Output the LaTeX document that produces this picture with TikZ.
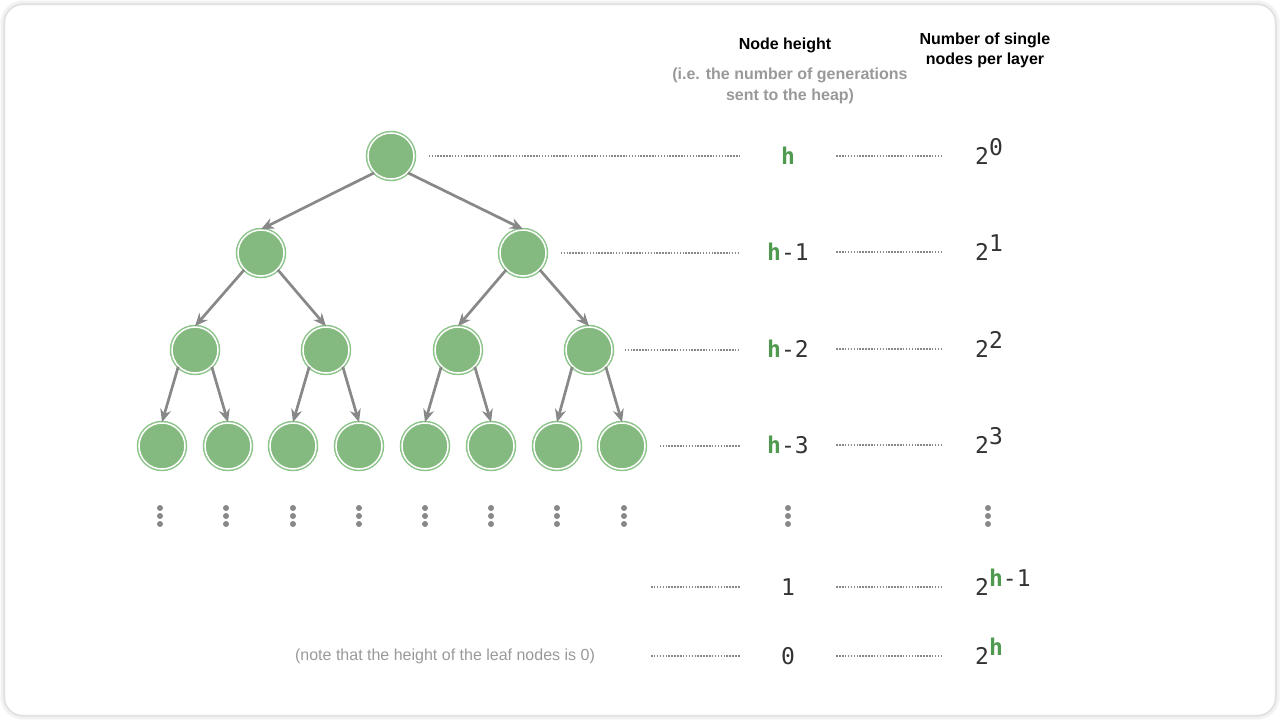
\documentclass[tikz,border=0pt]{standalone}
\usepackage{fontspec}
\setmainfont{Liberation Sans}
\setmonofont{DejaVu Sans Mono}
\usetikzlibrary{positioning, arrows.meta}
\definecolor{leafgreen}{HTML}{84B97F}
\definecolor{ringgreen}{HTML}{8DC48B}
\definecolor{hgreen}{HTML}{4F9A4F}
\definecolor{edgegray}{HTML}{888888}
\definecolor{notegray}{HTML}{999999}
\definecolor{valgray}{HTML}{333333}
\newcommand{\hh}{\textbf{\textcolor{hgreen}{h}}}
\newcommand{\pw}[1]{2\raisebox{9pt}{#1}}
\tikzset{
  heapnode/.style={circle, minimum size=46, inner sep=0, fill=leafgreen,
    draw=white, line width=1.5, preaction={draw=ringgreen, line width=4.5}},
  child/.style={-{Stealth[length=13,width=11]}, draw=edgegray, line width=2.7},
  level/.style={draw=edgegray, line width=1.3, dash pattern=on 1.5 off 1.4},
  val/.style={minimum width=96, inner sep=0, text=valgray,
    font=\fontsize{23}{27}\selectfont\ttfamily},
  pow/.style={anchor=base west, inner sep=0, text=valgray,
    font=\fontsize{23}{27}\selectfont\ttfamily},
  head/.style={align=center, font=\fontsize{16}{20}\selectfont\bfseries},
  dot/.style={circle, fill=edgegray, inner sep=0, minimum size=6},
}

\begin{document}
\begin{tikzpicture}[x=1pt, y=-1pt]
  \useasboundingbox (0,0) rectangle (1280,720);
  % frame
  \draw[rounded corners=20, draw=black!5, line width=5] (3,3) rectangle (1277,717);
  \draw[rounded corners=19, draw=black!13, line width=1.2] (4,4) rectangle (1276,716);

  % headers
  \node[head] (hhead) at (785,45) {Node height};
  \node[head, text=notegray, font=\fontsize{16}{21}\selectfont\bfseries] (hsub) at (790,86)
    {(i.e. the number of generations\\sent to the heap)};
  \node[head] (nhead) at (985,50) {Number of single\\nodes per layer};

  % tree
  \node[heapnode] (n) at (391,156) {};
  \node[heapnode] (nl) at (261,253) {};
  \node[heapnode] (nr) at (523,253) {};
  \node[heapnode] (nll) at (195,350) {};
  \node[heapnode] (nlr) at (326,350) {};
  \node[heapnode] (nrl) at (458,350) {};
  \node[heapnode] (nrr) at (589,350) {};
  \foreach \x [count=\i] in {162,228,293,359,425,491,557,622}
    \node[heapnode] (leaf\i) at (\x,446) {};

  \draw[child] (n.south west) -- (nl.north);
  \draw[child] (n.south east) -- (nr.north);
  \draw[child] (nl.south west) -- (nll.north);
  \draw[child] (nl.south east) -- (nlr.north);
  \draw[child] (nr.south west) -- (nrl.north);
  \draw[child] (nr.south east) -- (nrr.north);
  \draw[child] (nll.south west) -- (leaf1.north);
  \draw[child] (nll.south east) -- (leaf2.north);
  \draw[child] (nlr.south west) -- (leaf3.north);
  \draw[child] (nlr.south east) -- (leaf4.north);
  \draw[child] (nrl.south west) -- (leaf5.north);
  \draw[child] (nrl.south east) -- (leaf6.north);
  \draw[child] (nrr.south west) -- (leaf7.north);
  \draw[child] (nrr.south east) -- (leaf8.north);

  % heights and counts
  \node[val] (v0) at (788,156) {\hh};
  \node[val] (v1) at (788,252) {\hh-1};
  \node[val] (v2) at (788,349) {\hh-2};
  \node[val] (v3) at (788,445) {\hh-3};
  \node[val] (v4) at (788,587) {1};
  \node[val] (v5) at (788,656) {0};

  \node[pow] (p0) at (975,164) {\pw{0}};
  \node[pow] (p1) at (975,260) {\pw{1}};
  \node[pow] (p2) at (975,357) {\pw{2}};
  \node[pow] (p3) at (975,453) {\pw{3}};
  \node[pow] (p4) at (975,595) {\pw{\hh-1}};
  \node[pow] (p5) at (975,664) {\pw{\hh}};

  \coordinate (s4) at (651,587);
  \coordinate (s5) at (651,656);

  \draw[level, shorten <=14] (n.east) -- (v0.west |- n.east);
  \draw[level, shorten <=14] (nr.east) -- (v1.west |- nr.east);
  \draw[level, shorten <=12] (nrr.east) -- (v2.west |- nrr.east);
  \draw[level, shorten <=14] (leaf8.east) -- (v3.west |- leaf8.east);
  \draw[level] (s4) -- (v4.west |- s4);
  \draw[level] (s5) -- (v5.west |- s5);
  \foreach \r in {0,...,5}
    \draw[level, shorten >=32] (v\r.east |- v\r) -- (p\r.west |- v\r);

  % continuation dots
  \foreach \x in {160,226,293,359,425,491,557,624,788,988}
    \foreach \y in {508,516,524}
      \node[dot] at (\x,\y) {};

  \node[text=notegray, font=\fontsize{16}{19}\selectfont] (note) at (445,656)
    {(note that the height of the leaf nodes is 0)};
\end{tikzpicture}
\end{document}
